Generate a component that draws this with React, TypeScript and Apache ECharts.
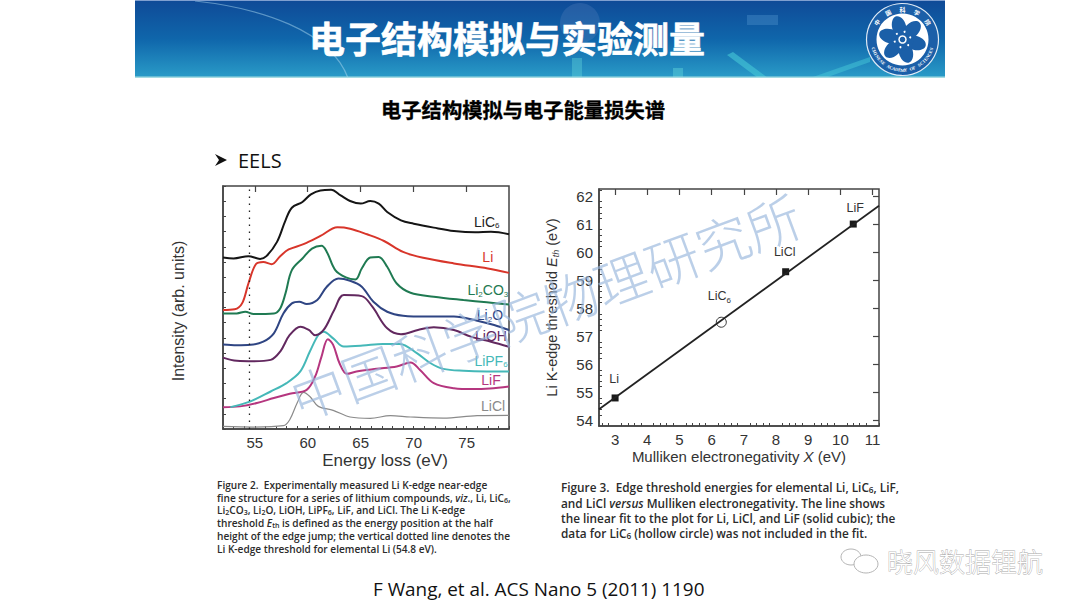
import { useEffect, useRef } from "react";
import * as echarts from "echarts";

// left plot: Li K-edge spectra, [energy loss (eV), intensity (arb. units, offset)]
const liC6 = [[52, 11.29], [53, 11.23], [54.4, 11.38], [55.5, 11.2], [56.1, 11.38], [57.1, 12.32], [57.9, 13.74], [58.5, 14.57], [59.5, 14.95], [60.3, 15.45], [61.2, 15.71], [62.2, 15.75], [63.1, 15.38], [64, 15.01], [65, 14.84], [65.9, 15.01], [66.7, 14.84], [67.5, 14.29], [68.8, 13.74], [70, 13.52], [71.9, 13.26], [73.8, 13.04], [75.8, 12.95], [77.3, 12.98], [79, 12.82]];
const li = [[52, 7.83], [53.1, 7.88], [53.8, 8.27], [54.4, 9.58], [55.1, 10.85], [55.8, 11], [56.6, 10.85], [57.4, 11.38], [58.2, 11.82], [59.6, 12.17], [61.2, 12.71], [62.8, 13.28], [64, 13.19], [65.6, 12.82], [67.2, 12.38], [69, 11.66], [70.9, 11.27], [73.8, 10.9], [77, 10.57], [79, 10.28]];
const li2co3 = [[52, 7.61], [53.3, 7.61], [54.1, 7.72], [54.9, 7.57], [56.8, 7.61], [57.4, 7.94], [57.9, 8.93], [58.5, 10.46], [59.5, 11.23], [60.4, 11.88], [61.3, 12.06], [61.8, 11.66], [62.6, 10.46], [63.6, 9.98], [64.5, 9.85], [65.1, 10.57], [65.9, 11.29], [66.7, 11.33], [67.5, 10.68], [68.4, 9.58], [69.7, 8.97], [71.9, 8.71], [74.7, 8.49], [76.9, 8.34], [79, 8.2]];
const li2o = [[52, 5.56], [53.3, 5.51], [54.6, 5.54], [55.8, 5.75], [56.8, 6.3], [57.7, 7.61], [58.5, 8.27], [59.2, 8.38], [59.9, 8.23], [60.9, 8.49], [61.8, 9.37], [62.9, 9.91], [64, 9.76], [65.1, 9.37], [66.2, 8.38], [67.5, 7.72], [69, 7.46], [71.3, 7.4], [73.8, 7.4], [76, 7.13], [77.6, 6.85], [79, 6.52]];
const liOH = [[52, 4.7], [53.3, 4.49], [54.9, 4.46], [56.5, 4.55], [57.4, 5.1], [58.3, 6.19], [59.3, 6.74], [60.1, 6.52], [60.7, 6.17], [61.5, 6.52], [62.5, 7.83], [63.4, 8.82], [65.1, 8.75], [66.1, 8.05], [67.5, 6.63], [68.8, 6.24], [70.4, 6.52], [71.9, 6.7], [73.8, 6.52], [75.4, 6.08], [77.3, 5.75], [79, 5.42]];
const liPF6 = [[52.7, 1.44], [54.6, 1.82], [56.5, 2.47], [58, 3.02], [59.3, 3.79], [60.2, 5.1], [61, 6.19], [61.5, 6.41], [62.4, 5.97], [63.4, 5.43], [65.2, 5.49], [67.1, 5.6], [68.7, 5.6], [70.3, 4.99], [71.6, 4.33], [72.8, 3.96], [74.7, 3.83], [76.9, 3.79], [79, 3.79]];
const liF = [[52, 1.44], [53.6, 1.49], [55.2, 1.71], [56.8, 2.04], [58.3, 2.32], [59.9, 2.58], [60.7, 3.46], [61.3, 4.77], [61.9, 5.91], [62.4, 5.54], [63, 4.33], [63.7, 3.63], [64.6, 3.79], [66.5, 3.96], [68.4, 4.11], [69.7, 4.38], [70.6, 3.89], [71.9, 3.02], [73.8, 2.69], [75.6, 2.63], [77.2, 2.67], [79, 2.8]];
const liCl = [[52, 0.17], [54.9, 0.13], [57.7, 0.22], [58.3, 0.61], [59, 1.71], [59.6, 2.41], [60.2, 2.14], [61, 1.49], [62.4, 1.23], [64, 0.79], [65.9, 0.7], [67.8, 0.88], [69.7, 0.79], [72.8, 0.72], [76, 0.88], [79, 0.9]];

const spectra = [
  { name: "LiCl", data: liCl, color: "#8a8a8a", width: 1.2 },
  { name: "LiF", data: liF, color: "#b5367f", width: 2 },
  { name: "LiPF6", data: liPF6, color: "#45b8b8", width: 2 },
  { name: "LiOH", data: liOH, color: "#62285f", width: 2 },
  { name: "Li2O", data: li2o, color: "#2f4583", width: 2 },
  { name: "Li2CO3", data: li2co3, color: "#1f7a52", width: 2 },
  { name: "Li", data: li, color: "#d8352a", width: 2 },
  { name: "LiC6", data: liC6, color: "#151515", width: 2 },
];

const spectraLabels = [
  { value: [76.9, 13.63], text: "LiC{s|6}", color: "#222222" },
  { value: [77, 11.33], text: "Li", color: "#d8352a" },
  { value: [77, 9.15], text: "Li{s|2}CO{s|3}", color: "#1f7a52" },
  { value: [77.2, 7.5], text: "Li{s|2}O", color: "#2f4583" },
  { value: [77.3, 6.15], text: "LiOH", color: "#62285f" },
  { value: [77.3, 4.5], text: "LiPF{s|6}", color: "#45b8b8" },
  { value: [77.3, 3.2], text: "LiF", color: "#b5367f" },
  { value: [77.5, 1.49], text: "LiCl", color: "#8a8a8a" },
];

const thresholdLine = [[54.5, 0], [54.5, 16]];
const leftTicks = [55, 60, 65, 70, 75];

// right plot: Li K-edge threshold vs Mulliken electronegativity
const fitLine = [[2.5, 54.4], [11.2, 61.65]];
const filledPoints = [
  { value: [3, 54.8], text: "Li", offset: [-1, -19] },
  { value: [8.3, 59.3], text: "LiCl", offset: [-1, -20] },
  { value: [10.4, 61], text: "LiF", offset: [2, -16] },
];
const hollowPoints = [{ value: [6.3, 57.5], text: "LiC{s|6}", offset: [-2, -26] }];
const rightXLabels = [3, 4, 5, 6, 7, 8, 9, 10, 11];
const rightYLabels = [54, 55, 56, 57, 58, 59, 60, 61, 62];
const rightXTicks = [2.6, 2.8, 3.2, 3.4, 3.6, 3.8, 4.2, 4.4, 4.6, 4.8, 5.2, 5.4, 5.6, 5.8, 6.2, 6.4, 6.6, 6.8, 7.2, 7.4, 7.6, 7.8, 8.2, 8.4, 8.6, 8.8, 9.2, 9.4, 9.6, 9.8, 10.2, 10.4, 10.6, 10.8, 11.2];
const rightYTicks = [54.2, 54.4, 54.6, 54.8, 55.2, 55.4, 55.6, 55.8, 56.2, 56.4, 56.6, 56.8, 57.2, 57.4, 57.6, 57.8, 58.2, 58.4, 58.6, 58.8, 59.2, 59.4, 59.6, 59.8, 60.2, 60.4, 60.6, 60.8, 61.2, 61.4, 61.6, 61.8, 62.2];

const captionLeft = [
  "Figure 2.  Experimentally measured Li K-edge near-edge",
  "fine structure for a series of lithium compounds, {i|viz}., Li, LiC{s|6},",
  "Li{s|2}CO{s|3}, Li{s|2}O, LiOH, LiPF{s|6}, LiF, and LiCl. The Li K-edge",
  "threshold {i|E}{s|th} is defined as the energy position at the half",
  "height of the edge jump; the vertical dotted line denotes the",
  "Li K-edge threshold for elemental Li (54.8 eV).",
];
const captionLeftY = [485, 498, 510, 523, 536, 549];
const captionRight = [
  "Figure 3.  Edge threshold energies for elemental Li, LiC{s|6}, LiF,",
  "and LiCl {i|versus} Mulliken electronegativity. The line shows",
  "the linear fit to the plot for Li, LiCl, and LiF (solid cubic); the",
  "data for LiC{s|6} (hollow circle) was not included in the fit.",
];
const captionRightY = [487, 503, 518, 533];

const logoTop = ["中", "国", "科", "学", "院"];
const logoBottom = "CHINESE ACADEMY OF SCIENCES".split("");

const sansFont = "Liberation Sans";
const slideFont = "Open Sans";
const cjkFont = "Noto Sans CJK SC";
const axisColor = "#444444";
const logoX = 902.5;
const logoY = 39.5;

const labelRich = (color: string) => ({
  s: { fontSize: 8, color, fontFamily: sansFont, verticalAlign: "bottom", padding: [8, 0, 0, 0] },
});

const captionRich = (size: number) => ({
  s: { font: `600 ${size * 0.7}px "${slideFont}"`, fill: "#2b2b2b", verticalAlign: "bottom", padding: [4, 0, 0, 0] },
  i: { font: `italic 600 ${size}px "${slideFont}"`, fill: "#2b2b2b" },
});

const buildLogo = () => {
  const rad = (deg: number) => (deg * Math.PI) / 180;
  const petals = [15, 75, 135, 195, 255, 315].map((deg) => ({
    type: "ellipse",
    x: logoX,
    y: logoY,
    rotation: rad(deg),
    shape: { cx: 0, cy: -13, rx: 7, ry: 11 },
    style: { fill: "#1b5fa8" },
  }));
  const dots = [15, 75, 135, 195, 255, 315].map((deg) => ({
    type: "circle",
    shape: {
      cx: logoX + 8 * Math.sin(rad(deg)),
      cy: logoY - 8 * Math.cos(rad(deg)),
      r: 1,
    },
    style: { fill: "#ffffff" },
  }));
  const topChars = logoTop.map((ch, i) => {
    const deg = -56 + i * 28;
    return {
      type: "text",
      x: logoX + 30.5 * Math.sin(rad(deg)),
      y: logoY - 30.5 * Math.cos(rad(deg)),
      rotation: rad(-deg),
      style: { text: ch, fill: "#ffffff", font: `bold 6px "${cjkFont}"`, align: "center", verticalAlign: "middle" },
    };
  });
  const bottomChars = logoBottom.map((ch, i) => {
    const deg = -72 + (i * 144) / (logoBottom.length - 1);
    return {
      type: "text",
      x: logoX + 30.5 * Math.sin(rad(deg)),
      y: logoY + 30.5 * Math.cos(rad(deg)),
      rotation: rad(deg),
      style: { text: ch, fill: "#ffffff", font: `bold 4.5px "Liberation Serif"`, align: "center", verticalAlign: "middle" },
    };
  });

  return [
    { type: "circle", shape: { cx: logoX, cy: logoY, r: 36 }, style: { fill: "#1b5fa8", stroke: "#dfeaf5", lineWidth: 1.2 } },
    { type: "circle", shape: { cx: logoX, cy: logoY, r: 26 }, style: { fill: "#ffffff" } },
    ...petals,
    { type: "circle", shape: { cx: logoX, cy: logoY, r: 11 }, style: { fill: "#1b5fa8" } },
    ...dots,
    { type: "circle", shape: { cx: logoX, cy: logoY, r: 3.5 }, style: { fill: "none", stroke: "#ffffff", lineWidth: 1.5 } },
    ...topChars,
    ...bottomChars,
  ];
};

const buildBanner = () => [
  {
    type: "rect",
    shape: { x: 135, y: 0, width: 810, height: 78 },
    style: {
      fill: new echarts.graphic.LinearGradient(0, 0, 0, 1, [
        { offset: 0, color: "#0f4a97" },
        { offset: 0.5, color: "#0f66ab" },
        { offset: 1, color: "#2a9cc8" },
      ]),
    },
  },
  { type: "circle", shape: { cx: 580, cy: 23, r: 20 }, style: { fill: "rgba(90,130,190,0.3)" } },
  { type: "rect", shape: { x: 747, y: 15, width: 31, height: 10 }, style: { fill: "rgba(70,140,200,0.45)" } },
  { type: "polygon", shape: { points: [[727, 55], [733, 52], [768, 78], [758, 78]] }, style: { fill: "rgba(70,200,215,0.6)" } },
  { type: "polygon", shape: { points: [[810, 78], [870, 57], [870, 62], [825, 78]] }, style: { fill: "rgba(70,200,215,0.5)" } },
  { type: "rect", shape: { x: 572, y: 58, width: 10, height: 20 }, style: { fill: "rgba(90,205,215,0.45)" } },
  { type: "rect", shape: { x: 673, y: 68, width: 10, height: 10 }, style: { fill: "rgba(90,205,215,0.5)" } },
  {
    type: "bezierCurve",
    shape: { x1: 195, y1: 1, cpx1: 260, cpy1: 8, cpx2: 330, cpy2: 30, x2: 348, y2: 78 },
    style: { fill: "none", stroke: "rgba(170,215,240,0.5)", lineWidth: 1.2 },
  },
  { type: "rect", shape: { x: 135, y: 0, width: 810, height: 1 }, style: { fill: "#7f9fd0" } },
  { type: "rect", shape: { x: 135, y: 76.5, width: 810, height: 1.5 }, style: { fill: "#a6dbe2" } },
  {
    type: "text",
    x: 507,
    y: 37,
    style: {
      text: "电子结构模拟与实验测量",
      fill: "#ffffff",
      stroke: "#ffffff",
      lineWidth: 0.6,
      font: `bold 36px "${cjkFont}"`,
      align: "center",
      verticalAlign: "middle",
    },
  },
  ...buildLogo(),
];

const buildGraphic = () => [
  ...buildBanner(),
  {
    type: "text",
    x: 523,
    y: 109,
    style: {
      text: "电子结构模拟与电子能量损失谱",
      fill: "#000000",
      stroke: "#000000",
      lineWidth: 0.3,
      font: `bold 20.3px "${cjkFont}"`,
      align: "center",
      verticalAlign: "middle",
    },
  },
  {
    type: "polygon",
    shape: { points: [[215, 154], [227, 160], [215, 166], [219, 160]] },
    style: { fill: "#111111" },
  },
  {
    type: "text",
    x: 238,
    y: 160,
    style: { text: "EELS", fill: "#111111", font: `20px "${slideFont}"`, verticalAlign: "middle" },
  },
  ...captionLeft.map((line, i) => ({
    type: "text",
    x: 217,
    y: captionLeftY[i],
    style: { text: line, fill: "#2b2b2b", font: `600 10.1px "${slideFont}"`, verticalAlign: "middle", rich: captionRich(10.1) },
  })),
  ...captionRight.map((line, i) => ({
    type: "text",
    x: 561,
    y: captionRightY[i],
    style: { text: line, fill: "#2b2b2b", font: `600 11.8px "${slideFont}"`, verticalAlign: "middle", rich: captionRich(11.8) },
  })),
  {
    type: "text",
    x: 373,
    y: 589,
    style: {
      text: "F Wang, et al. ACS Nano 5 (2011) 1190",
      fill: "#111111",
      font: `18.9px "${slideFont}"`,
      verticalAlign: "middle",
    },
  },
  // wechat mark
  {
    type: "ellipse",
    shape: { cx: 851, cy: 557, rx: 10, ry: 8 },
    style: { fill: "none", stroke: "#b5b5b5", lineWidth: 1 },
  },
  {
    type: "ellipse",
    shape: { cx: 866, cy: 564, rx: 12, ry: 9 },
    style: { fill: "#ffffff", stroke: "#b5b5b5", lineWidth: 1 },
  },
  {
    type: "text",
    x: 887,
    y: 560,
    style: {
      text: "晓风数据锂航",
      fill: "#ffffff",
      stroke: "#a8a8a8",
      lineWidth: 0.8,
      font: `300 26px "${cjkFont}"`,
      verticalAlign: "middle",
    },
  },
  // diagonal watermark over the figures
  {
    type: "text",
    x: 545,
    y: 305,
    rotation: (20.4 * Math.PI) / 180,
    z: 100,
    style: {
      text: "中国科学院物理研究所",
      fill: "rgba(150,182,220,0.65)",
      font: `300 54px "${cjkFont}"`,
      align: "center",
      verticalAlign: "middle",
    },
  },
];

// extra axis that only draws the longer ticks on top of the fine ones
const majorTicks = (gridIndex: number, min: number, max: number, values: number[]) => ({
  type: "value",
  gridIndex,
  min,
  max,
  splitLine: { show: false },
  axisLine: { show: false },
  axisLabel: { show: false },
  axisTick: { inside: true, length: 6, customValues: values, lineStyle: { color: axisColor, width: 1.2 } },
});

export default function App() {
  const chartDiv = useRef<HTMLDivElement>(null);

  useEffect(() => {
    if (!chartDiv.current) return;
    const chart = echarts.init(chartDiv.current, undefined, { renderer: "svg" });

    chart.setOption({
      animation: false,
      backgroundColor: "#ffffff",
      textStyle: { fontFamily: sansFont },
      graphic: buildGraphic(),
      grid: [
        { left: 223, top: 186, width: 286, height: 243, show: true, borderColor: axisColor, borderWidth: 1.5, backgroundColor: "transparent" },
        { left: 599, top: 189, width: 280, height: 237, show: true, borderColor: axisColor, borderWidth: 1.5, backgroundColor: "transparent" },
      ],
      xAxis: [
        {
          type: "value",
          gridIndex: 0,
          min: 52,
          max: 79,
          interval: 1,
          name: "Energy loss (eV)",
          nameLocation: "middle",
          nameGap: 23,
          nameTextStyle: { fontSize: 17, color: "#333333", fontFamily: sansFont, padding: [0, 0, 0, 38] },
          splitLine: { show: false },
          axisLine: { lineStyle: { color: axisColor, width: 1.5 } },
          axisTick: { inside: true, length: 3, lineStyle: { color: axisColor } },
          axisLabel: { customValues: leftTicks, fontSize: 15, color: "#333333", margin: 6, fontFamily: sansFont },
        },
        {
          type: "value",
          gridIndex: 1,
          min: 2.5,
          max: 11.2,
          name: "Mulliken electronegativity {i|X} (eV)",
          nameLocation: "middle",
          nameGap: 23,
          nameTextStyle: {
            fontSize: 15,
            color: "#333333",
            fontFamily: sansFont,
            rich: { i: { fontSize: 15, fontStyle: "italic", color: "#333333", fontFamily: sansFont } },
          },
          splitLine: { show: false },
          axisLine: { lineStyle: { color: axisColor, width: 1.5 } },
          axisTick: { inside: true, length: 3, customValues: rightXTicks, lineStyle: { color: axisColor } },
          axisLabel: { customValues: rightXLabels, fontSize: 15, color: "#333333", margin: 6, fontFamily: sansFont },
        },
        majorTicks(0, 52, 79, leftTicks),
        majorTicks(1, 2.5, 11.2, rightXLabels),
      ],
      yAxis: [
        {
          type: "value",
          gridIndex: 0,
          min: 0,
          max: 16,
          interval: 1,
          name: "Intensity (arb. units)",
          nameLocation: "middle",
          nameGap: 36.5,
          nameTextStyle: { fontSize: 16, color: "#333333", fontFamily: sansFont, padding: [0, 7, 0, 0] },
          splitLine: { show: false },
          axisLine: { show: true, lineStyle: { color: axisColor, width: 1.5 } },
          axisTick: { inside: true, length: 3, lineStyle: { color: axisColor } },
          axisLabel: { show: false },
        },
        {
          type: "value",
          gridIndex: 1,
          min: 53.8,
          max: 62.25,
          name: "Li K-edge threshold {i|E}{j|th} (eV)",
          nameLocation: "middle",
          nameGap: 39,
          nameTextStyle: {
            fontSize: 14.5,
            color: "#333333",
            fontFamily: sansFont,
            rich: {
              i: { fontSize: 14.5, fontStyle: "italic", color: "#333333", fontFamily: sansFont },
              j: { fontSize: 9, fontStyle: "italic", color: "#333333", fontFamily: sansFont, verticalAlign: "bottom", padding: [8, 0, 0, 0] },
            },
          },
          splitLine: { show: false },
          axisLine: { show: true, lineStyle: { color: axisColor, width: 1.5 } },
          axisTick: { inside: true, length: 3, customValues: rightYTicks, lineStyle: { color: axisColor } },
          axisLabel: { customValues: rightYLabels, fontSize: 15, color: "#333333", margin: 6, fontFamily: sansFont },
        },
        majorTicks(1, 53.8, 62.25, rightYLabels),
      ],
      series: [
        ...spectra.map((s) => ({
          type: "line",
          name: s.name,
          xAxisIndex: 0,
          yAxisIndex: 0,
          data: s.data,
          smooth: 0.35,
          showSymbol: false,
          lineStyle: { color: s.color, width: s.width },
        })),
        {
          type: "line",
          name: "threshold",
          xAxisIndex: 0,
          yAxisIndex: 0,
          data: thresholdLine,
          showSymbol: false,
          lineStyle: { color: "#222222", width: 1.3, type: [1.5, 5.5] },
        },
        {
          type: "scatter",
          name: "spectrum labels",
          xAxisIndex: 0,
          yAxisIndex: 0,
          symbolSize: 0,
          itemStyle: { opacity: 1 },
          data: spectraLabels.map((l) => ({
            value: l.value,
            label: {
              show: true,
              position: "inside",
              formatter: l.text,
              color: l.color,
              opacity: 1,
              fontSize: 14,
              fontFamily: sansFont,
              rich: labelRich(l.color),
            },
          })),
        },
        {
          type: "line",
          name: "fit",
          xAxisIndex: 1,
          yAxisIndex: 1,
          data: fitLine,
          showSymbol: false,
          lineStyle: { color: "#222222", width: 1.8 },
        },
        {
          type: "scatter",
          name: "included",
          xAxisIndex: 1,
          yAxisIndex: 1,
          symbol: "rect",
          symbolSize: 7,
          itemStyle: { color: "#1a1a1a", opacity: 1 },
          data: filledPoints.map((p) => ({
            value: p.value,
            label: { show: true, position: "inside", offset: p.offset, formatter: p.text, color: "#333333", fontSize: 12.5, fontFamily: sansFont },
          })),
        },
        {
          type: "scatter",
          name: "excluded",
          xAxisIndex: 1,
          yAxisIndex: 1,
          symbol: "circle",
          symbolSize: 10,
          itemStyle: { color: "#ffffff", borderColor: "#333333", borderWidth: 1, opacity: 1 },
          data: hollowPoints.map((p) => ({
            value: p.value,
            label: { show: true, position: "inside", offset: p.offset, formatter: p.text, color: "#333333", fontSize: 12.5, fontFamily: sansFont, rich: labelRich("#333333") },
          })),
        },
      ],
    });

    return () => chart.dispose();
  }, []);

  return <div ref={chartDiv} style={{ position: "absolute", left: 0, top: 0, width: 1080, height: 607 }} />;
}
